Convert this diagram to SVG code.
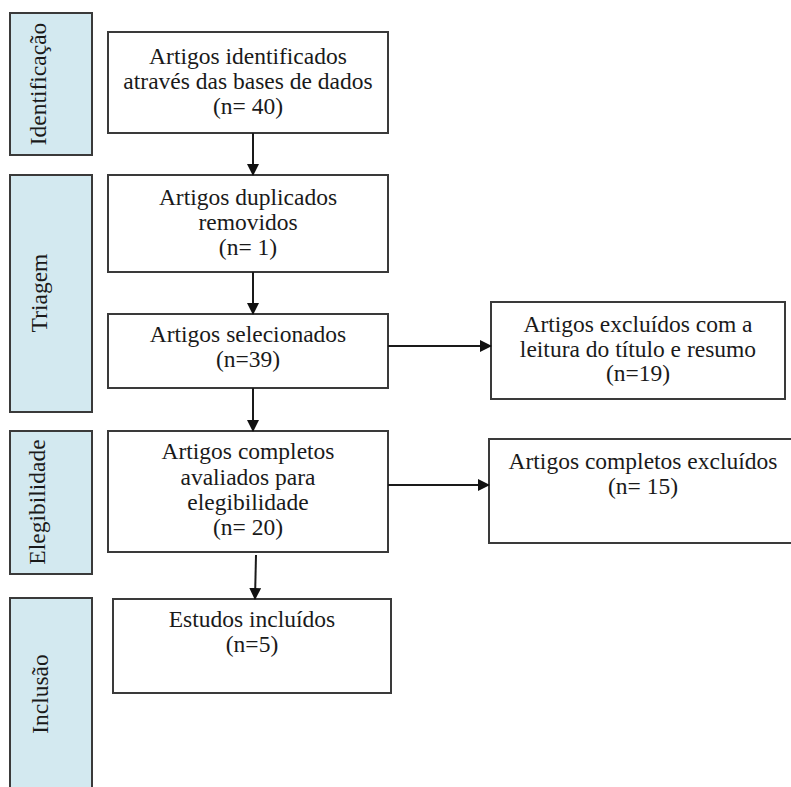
<svg xmlns="http://www.w3.org/2000/svg" width="791" height="787" viewBox="0 0 791 787">
<style>
.side{fill:#d3e9f0;stroke:#3a3a3a;stroke-width:2}
.box{fill:#fff;stroke:#3a3a3a;stroke-width:2}
.conn{stroke:#1a1a1a;stroke-width:2;fill:none;marker-end:url(#ah)}
</style>
<defs>
<marker id="ah" markerWidth="12" markerHeight="12" refX="11" refY="6" orient="auto" markerUnits="userSpaceOnUse">
<path d="M0,0 L12,6 L0,12 Z" fill="#111"/>
</marker>
</defs>
<rect width="791" height="787" fill="#fff"/>
<g font-family="'Liberation Serif', serif" font-size="23.5" fill="#1a1a1a" text-anchor="middle">
<g id="side-identificacao"><rect class="side" x="10" y="13" width="82" height="142"/><text transform="translate(46,84) rotate(-90)">Identificação</text></g>
<g id="side-triagem"><rect class="side" x="10" y="175" width="82" height="237"/><text transform="translate(47,293) rotate(-90)">Triagem</text></g>
<g id="side-elegibilidade"><rect class="side" x="10" y="431" width="82" height="143"/><text transform="translate(45,502) rotate(-90)">Elegibilidade</text></g>
<g id="side-inclusao"><rect class="side" x="10" y="598" width="82" height="200"/><text transform="translate(48,694) rotate(-90)">Inclusão</text></g>

<g id="n1"><rect class="box" x="108" y="32" width="280" height="101"/><text x="248" y="64">Artigos identificados</text><text x="248" y="89">através das bases de dados</text><text x="248" y="114">(n= 40)</text></g>
<g id="n2"><rect class="box" x="108" y="175" width="280" height="97"/><text x="248" y="205">Artigos duplicados</text><text x="248" y="230">removidos</text><text x="248" y="255">(n= 1)</text></g>
<g id="n3"><rect class="box" x="108" y="314" width="280" height="74"/><text x="248" y="342">Artigos selecionados</text><text x="248" y="367">(n=39)</text></g>
<g id="n4"><rect class="box" x="108" y="431" width="280" height="121"/><text x="248" y="459">Artigos completos</text><text x="248" y="485">avaliados para</text><text x="248" y="510">elegibilidade</text><text x="248" y="535">(n= 20)</text></g>
<g id="n5"><rect class="box" x="113" y="599" width="278" height="94"/><text x="252" y="627">Estudos incluídos</text><text x="252" y="652">(n=5)</text></g>
<g id="r1"><rect class="box" x="491" y="302" width="294" height="97"/><text x="638" y="332">Artigos excluídos com a</text><text x="638" y="357">leitura do título e resumo</text><text x="638" y="381">(n=19)</text></g>
<g id="r2"><rect class="box" x="489" y="439" width="310" height="104"/><text x="643" y="469">Artigos completos excluídos</text><text x="643" y="494">(n= 15)</text></g>
</g>
<g id="connectors">
<line class="conn" x1="253" y1="133" x2="253" y2="175"/>
<line class="conn" x1="253" y1="272" x2="253" y2="314"/>
<line class="conn" x1="253" y1="388" x2="253" y2="431"/>
<line class="conn" x1="256" y1="555" x2="255" y2="599"/>
<line class="conn" x1="388" y1="346" x2="491" y2="346"/>
<line class="conn" x1="388" y1="485" x2="489" y2="485"/>
</g>
</svg>
